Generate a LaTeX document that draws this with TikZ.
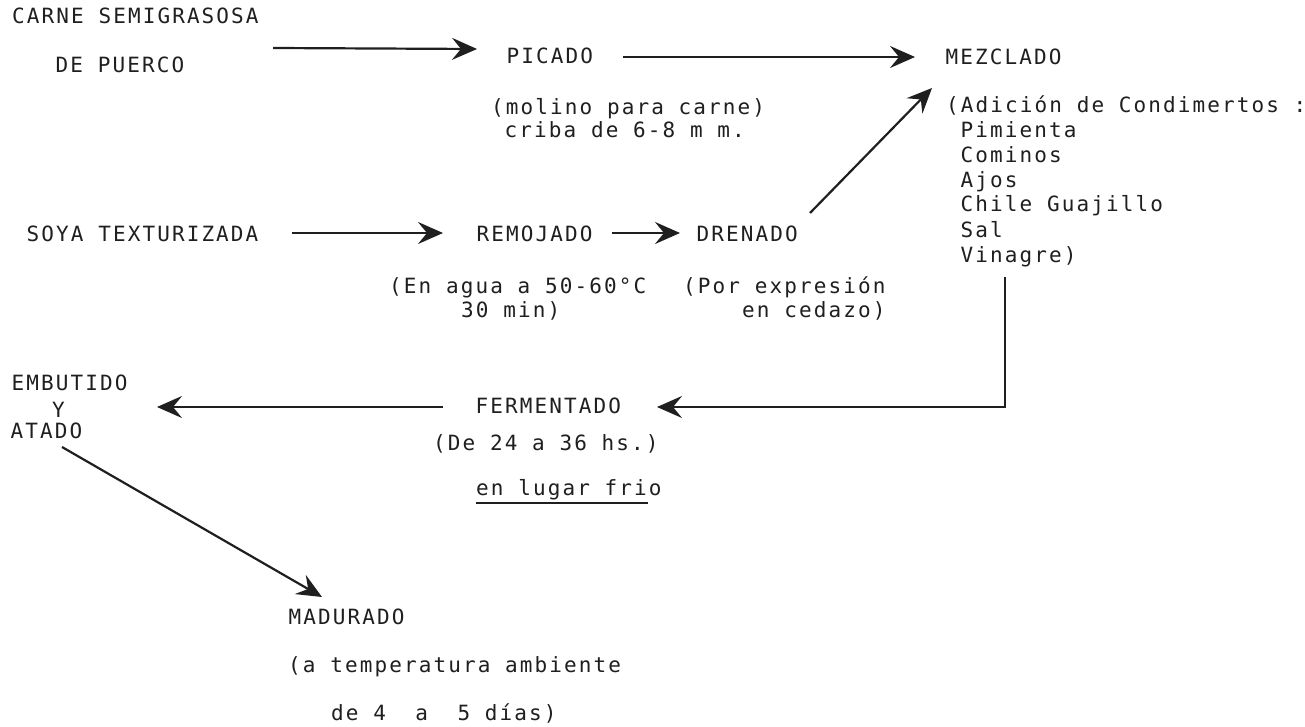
\documentclass[tikz,border=0pt]{standalone}
\usepackage{fontspec}
\usetikzlibrary{arrows.meta,calc}
\newfontfamily\twfont[LetterSpace=10]{DejaVu Sans Mono}
\definecolor{ink}{rgb}{0.12,0.12,0.12}
\tikzset{
  txt/.style={font=\twfont\fontsize{21}{24.8}\selectfont, inner sep=0pt, anchor=base west, text=ink},
  arr/.style={draw=ink, line width=2.2pt, -{Stealth[length=25pt,width=22pt,inset=9pt]}},
  plain/.style={draw=ink, line width=2.2pt}
}
\begin{document}
\begin{tikzpicture}[x=1pt,y=-1pt]
\useasboundingbox[fill=white] (0,0) rectangle (1305,727);
% column 1
\node[txt] (carne1) at (12,24) {CARNE SEMIGRASOSA};
\node[txt] (puerco) at (55.5,73) {DE PUERCO};
\node[txt] (picado) at (506.5,64) {PICADO};
\node[txt] (molino) at (491,115) {(molino para carne)};
\node[txt] (criba) at (504.5,138) {criba de 6-8 m m.};
\node[txt] (mezclado) at (945.5,65) {MEZCLADO};
\node[txt] (adicion) at (946,113) {(Adición de Condimertos :};
\node[txt] (pimienta) at (960.5,138) {Pimienta};
\node[txt] (cominos) at (960.5,163) {Cominos};
\node[txt] (ajos) at (960.5,187.5) {Ajos};
\node[txt] (chile) at (960.5,212) {Chile Guajillo};
\node[txt] (sal) at (960.5,237) {Sal};
\node[txt] (vinagre) at (960.5,262) {Vinagre)};
\node[txt] (soya) at (26.5,241) {SOYA TEXTURIZADA};
\node[txt] (remojado) at (476.5,241) {REMOJADO};
\node[txt] (drenado) at (696.5,241) {DRENADO};
\node[txt] (enagua) at (389,293) {(En agua a 50-60°C};
\node[txt] (min) at (461,317) {30 min)};
\node[txt] (por) at (683,293) {(Por expresión};
\node[txt, anchor=base east] (cedazo) at ($(por.base east)+(0,24)$) {en cedazo)};
\node[txt] (embutido) at (11.5,390) {EMBUTIDO};
\node[txt] (ynode) at (52,417) {Y};
\node[txt] (atado) at (10.5,438) {ATADO};
\node[txt] (fermentado) at (475.5,413) {FERMENTADO};
\node[txt] (horas) at (433,450) {(De 24 a 36 hs.)};
\node[txt] (frio) at (476,495) {en lugar frio};
\node[txt] (madurado) at (288.5,624) {MADURADO};
\node[txt] (temp) at (288,672) {(a temperatura ambiente};
\node[txt] (dias) at (331,720) {de 4\ \ a\ \ 5 días)};
% connectors
\draw[arr] ($(carne1.base west)+(261,24)$) -- ($(picado.base west)+(-29.5,-15)$);
\draw[arr] ($(picado.base west)+(116.5,-7)$) -- ($(mezclado.base west)+(-30.5,-8)$);
\draw[arr] ($(soya.base west)+(265.5,-8)$) -- ($(remojado.base west)+(-33.5,-8)$);
\draw[arr] ($(remojado.base west)+(135.5,-8)$) -- ($(drenado.base west)+(-16.5,-8)$);
\draw[arr] ($(drenado.base west)+(113.5,-28)$) -- ($(mezclado.base west)+(-13.5,23)$);
\draw[arr] ($(vinagre.base west)+(44.5,15)$) |- ($(fermentado.base west)+(181.5,-6)$);
\draw[arr] ($(fermentado.base west)+(-32.5,-6)$) -- ($(ynode.base west)+(105,-10)$);
\draw[arr] ($(atado.base west)+(51.5,9)$) -- ($(madurado.base west)+(33.5,-27)$);
% underline
\draw[draw=ink, line width=1.6pt] ($(frio.base west)+(0,8)$) -- ++(172,0);
\end{tikzpicture}
\end{document}
